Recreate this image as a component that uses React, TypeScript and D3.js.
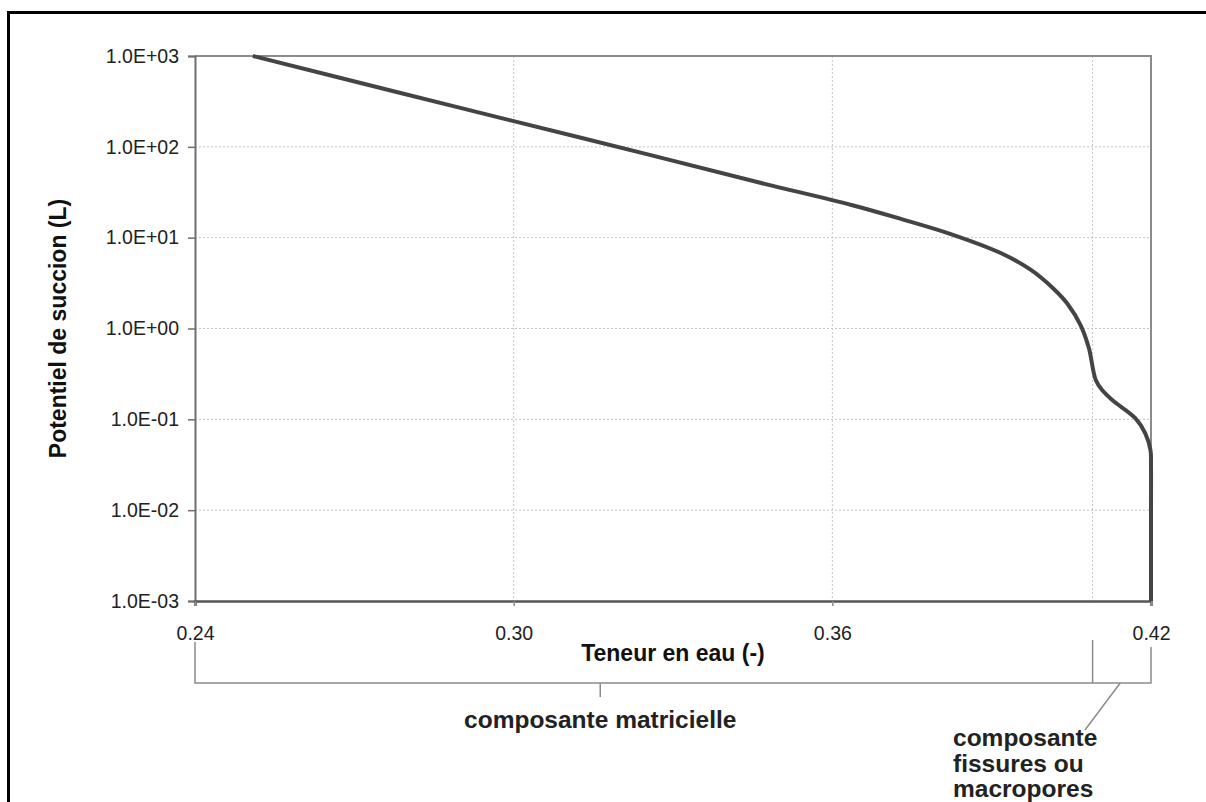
import React, { useEffect, useRef } from 'react';
import * as d3 from 'd3';

// teneur en eau (-) vs potentiel de succion (L)
const waterContent = [
  0.2509, 0.2787, 0.3, 0.3258, 0.3466, 0.3636, 0.3729, 0.3823, 0.3917, 0.3974,
  0.4017, 0.4043, 0.4068, 0.4083, 0.4096, 0.4108, 0.4127, 0.417, 0.4189,
  0.4199, 0.42, 0.42, 0.42,
];
const suction = [
  1000, 392, 192, 81, 40, 22.9, 16.1, 10.96, 6.78, 4.41,
  2.72, 1.86, 1.07, 0.61, 0.271, 0.21, 0.163, 0.1035, 0.0706,
  0.046, 0.03, 0.01, 0.001,
];

const xTicks = [0.24, 0.3, 0.36, 0.42];
const xTickLabels = ['0.24', '0.30', '0.36', '0.42'];
const xGrid = [0.3, 0.36, 0.409];
const yTicks = [1e-3, 1e-2, 1e-1, 1, 10, 100, 1000];
const yTickLabels = ['1.0E-03', '1.0E-02', '1.0E-01', '1.0E+00', '1.0E+01', '1.0E+02', '1.0E+03'];

// split between the two components of porosity
const componentBreak = 0.409;

const App = () => {
  const ref = useRef<SVGSVGElement>(null);

  useEffect(() => {
    const width = 1206;
    const height = 802;
    const m = { left: 195, right: 1151, top: 56, bottom: 601 };
    const font = 'Arial, "Liberation Sans", sans-serif';

    const svg = d3.select(ref.current)
      .attr('width', width)
      .attr('height', height);
    svg.selectAll('*').remove();

    svg.append('rect').attr('width', width).attr('height', height).attr('fill', '#fff');

    // outer frame (only top and left are inside the picture)
    svg.append('path')
      .attr('d', `M8.5,${height + 5} V12.5 H${width + 5}`)
      .attr('fill', 'none')
      .attr('stroke', '#000')
      .attr('stroke-width', 3);

    const x = d3.scaleLinear().domain([0.24, 0.42]).range([m.left, m.right]);
    const y = d3.scaleLog().domain([1e-3, 1e3]).range([m.bottom, m.top]);

    // grid
    svg.append('g').selectAll('line')
      .data(yTicks.slice(1, -1))
      .join('line')
      .attr('x1', m.left).attr('x2', m.right)
      .attr('y1', d => y(d)).attr('y2', d => y(d))
      .attr('stroke', '#c4c4c4').attr('stroke-width', 1).attr('stroke-dasharray', '2,2');
    svg.append('g').selectAll('line')
      .data(xGrid)
      .join('line')
      .attr('x1', d => x(d)).attr('x2', d => x(d))
      .attr('y1', m.top).attr('y2', m.bottom)
      .attr('stroke', '#c4c4c4').attr('stroke-width', 1).attr('stroke-dasharray', '2,2');

    // plot box top and right
    svg.append('path')
      .attr('d', `M${m.left},${m.top} H${m.right} V${m.bottom}`)
      .attr('fill', 'none').attr('stroke', '#8c8c8c').attr('stroke-width', 2);

    // y axis
    const yAxis = svg.append('g')
      .attr('transform', `translate(${m.left},0)`)
      .call(d3.axisLeft(y).tickValues(yTicks).tickFormat((_, i) => yTickLabels[i]).tickSize(7).tickPadding(9));
    yAxis.select('.domain').attr('stroke', '#6e6e6e').attr('stroke-width', 2);
    yAxis.selectAll('.tick line').attr('stroke', '#6e6e6e').attr('stroke-width', 1.5);
    yAxis.selectAll('.tick text')
      .attr('font-family', font).attr('font-size', 19.5).attr('fill', '#222');

    // x axis
    const xAxis = svg.append('g')
      .attr('transform', `translate(0,${m.bottom})`)
      .call(d3.axisBottom(x).tickValues(xTicks).tickFormat((_, i) => xTickLabels[i]).tickSizeOuter(0).tickSize(5).tickPadding(20));
    xAxis.select('.domain').attr('stroke', '#555').attr('stroke-width', 2.5);
    xAxis.selectAll('.tick line').attr('stroke', '#8c8c8c').attr('stroke-width', 1.5);
    xAxis.selectAll('.tick text')
      .attr('font-family', font).attr('font-size', 19.5).attr('fill', '#222');

    // curve
    const line = d3.line<number>()
      .x((_, i) => x(waterContent[i]))
      .y(d => y(d))
      .curve(d3.curveCatmullRom.alpha(0.5));
    svg.append('path')
      .datum(suction)
      .attr('d', line)
      .attr('fill', 'none')
      .attr('stroke', '#444')
      .attr('stroke-width', 4)
      .attr('stroke-linejoin', 'round');

    // axis titles
    svg.append('text')
      .attr('x', (m.left + m.right) / 2).attr('y', 661)
      .attr('text-anchor', 'middle')
      .attr('font-family', font).attr('font-weight', 'bold').attr('font-size', 23)
      .attr('fill', '#111')
      .text('Teneur en eau (-)');
    svg.append('text')
      .attr('transform', `translate(66,${(m.top + m.bottom) / 2}) rotate(-90)`)
      .attr('text-anchor', 'middle')
      .attr('font-family', font).attr('font-weight', 'bold').attr('font-size', 23)
      .attr('fill', '#111')
      .text('Potentiel de succion (L)');

    // component brackets
    const by = 683;
    const br = svg.append('g').attr('stroke', '#8c8c8c').attr('stroke-width', 1.5).attr('fill', 'none');
    br.append('path').attr('d', `M${x(0.24)},642 V${by} H${x(0.42)} V647`);
    br.append('path').attr('d', `M${x(componentBreak)},640 V${by}`);
    br.append('path').attr('d', `M${x(0.3163)},${by} V697`);
    br.append('path').attr('d', `M${x(0.4142)},${by} L1085,730`);

    svg.append('text')
      .attr('x', x(0.3163)).attr('y', 728)
      .attr('text-anchor', 'middle')
      .attr('font-family', font).attr('font-weight', 'bold').attr('font-size', 24.5)
      .attr('fill', '#222')
      .text('composante matricielle');

    const lines = ['composante', 'fissures ou', 'macropores'];
    svg.append('text')
      .attr('font-family', font).attr('font-weight', 'bold').attr('font-size', 24.5)
      .attr('fill', '#222')
      .selectAll('tspan')
      .data(lines)
      .join('tspan')
      .attr('x', 953)
      .attr('y', (_, i) => 746 + i * 25.5)
      .text(d => d);
  }, []);

  return <svg ref={ref} style={{ position: 'absolute', left: 0, top: 0 }}></svg>;
};

export default App;
